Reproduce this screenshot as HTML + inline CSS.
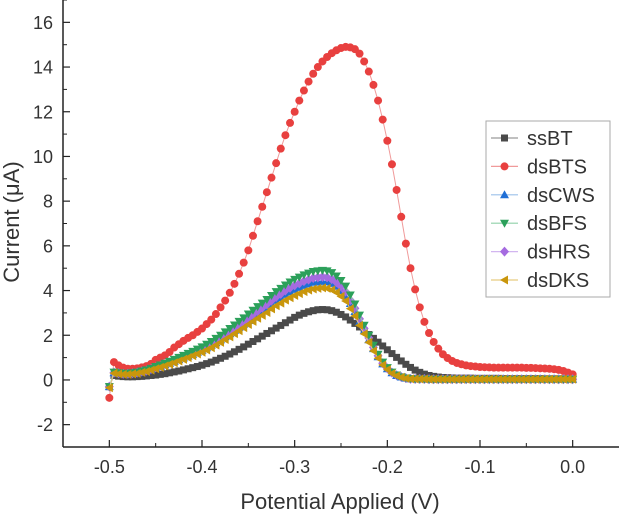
<!DOCTYPE html>
<html><head><meta charset="utf-8"><style>
html,body{margin:0;padding:0;background:#fff;}
svg{display:block;font-family:"Liberation Sans",Arial,sans-serif;}
</style></head><body>
<svg id="chart" width="619" height="518" viewBox="0 0 619 518" xmlns="http://www.w3.org/2000/svg"></svg>
<script>
const xTicks = [-0.5, -0.4, -0.3, -0.2, -0.1, 0.0];
const xTickLabels = ["-0.5", "-0.4", "-0.3", "-0.2", "-0.1", "0.0"];
const yTicks = [-2, 0, 2, 4, 6, 8, 10, 12, 14, 16];
const yTickLabels = ["-2", "0", "2", "4", "6", "8", "10", "12", "14", "16"];
const seriesNames = ["ssBT", "dsBTS", "dsCWS", "dsBFS", "dsHRS", "dsDKS"];
const xStart = -0.5;
const xStep = 0.005;
const ssBT = [-0.30,0.20,0.17,0.15,0.14,0.14,0.15,0.16,0.18,0.20,0.22,0.25,0.28,0.32,0.36,0.40,0.45,0.50,0.55,0.60,0.66,0.73,0.80,0.88,0.97,1.06,1.16,1.26,1.37,1.48,1.60,1.72,1.84,1.96,2.08,2.20,2.32,2.44,2.56,2.68,2.80,2.90,2.98,3.05,3.10,3.14,3.15,3.14,3.10,3.03,2.93,2.82,2.68,2.53,2.37,2.20,2.03,1.86,1.69,1.52,1.35,1.18,1.01,0.85,0.70,0.56,0.44,0.34,0.26,0.20,0.16,0.13,0.11,0.10,0.09,0.08,0.08,0.08,0.08,0.07,0.07,0.07,0.07,0.07,0.07,0.06,0.06,0.06,0.06,0.06,0.06,0.06,0.06,0.06,0.05,0.05,0.05,0.05,0.05,0.05,0.05];
const dsBTS = [-0.80,0.80,0.65,0.55,0.50,0.50,0.52,0.56,0.62,0.72,0.90,1.00,1.10,1.25,1.45,1.60,1.75,1.88,2.00,2.15,2.30,2.50,2.70,2.95,3.25,3.55,3.90,4.30,4.75,5.25,5.80,6.45,7.10,7.75,8.40,9.05,9.70,10.35,10.95,11.50,12.00,12.50,12.95,13.35,13.70,14.00,14.25,14.45,14.62,14.75,14.85,14.90,14.88,14.80,14.60,14.25,13.80,13.20,12.50,11.65,10.70,9.65,8.50,7.30,6.10,5.00,4.05,3.25,2.60,2.10,1.70,1.40,1.15,0.98,0.85,0.76,0.70,0.65,0.62,0.60,0.58,0.57,0.56,0.55,0.55,0.55,0.55,0.55,0.55,0.55,0.54,0.54,0.53,0.52,0.51,0.50,0.48,0.45,0.40,0.33,0.25];
const dsCWS = [-0.30,0.32,0.29,0.27,0.27,0.29,0.32,0.36,0.41,0.47,0.54,0.60,0.68,0.75,0.83,0.91,0.99,1.07,1.15,1.24,1.33,1.44,1.55,1.67,1.80,1.94,2.07,2.21,2.36,2.50,2.66,2.81,2.95,3.10,3.24,3.40,3.56,3.69,3.83,3.94,4.05,4.14,4.23,4.30,4.37,4.39,4.41,4.39,4.32,4.19,4.00,3.78,3.42,3.06,2.61,2.20,1.80,1.40,1.04,0.72,0.50,0.32,0.20,0.13,0.08,0.05,0.04,0.04,0.04,0.03,0.03,0.03,0.03,0.03,0.03,0.03,0.03,0.03,0.03,0.03,0.03,0.03,0.03,0.03,0.03,0.03,0.03,0.03,0.03,0.03,0.03,0.03,0.03,0.03,0.03,0.03,0.03,0.03,0.03,0.03,0.03];
const dsBFS = [-0.30,0.35,0.32,0.30,0.30,0.32,0.35,0.40,0.45,0.52,0.60,0.67,0.75,0.83,0.92,1.01,1.10,1.19,1.28,1.38,1.48,1.60,1.72,1.86,2.00,2.15,2.30,2.46,2.62,2.78,2.95,3.12,3.28,3.44,3.60,3.78,3.95,4.10,4.25,4.38,4.50,4.60,4.70,4.78,4.85,4.88,4.90,4.88,4.80,4.65,4.45,4.20,3.80,3.40,2.90,2.45,2.00,1.55,1.15,0.80,0.55,0.35,0.22,0.14,0.09,0.06,0.04,0.04,0.04,0.03,0.03,0.03,0.03,0.03,0.03,0.03,0.03,0.03,0.03,0.03,0.03,0.03,0.03,0.03,0.03,0.03,0.03,0.03,0.03,0.03,0.03,0.03,0.03,0.03,0.03,0.03,0.03,0.03,0.03,0.03,0.03];
const dsHRS = [-0.30,0.33,0.30,0.28,0.28,0.30,0.33,0.38,0.42,0.49,0.56,0.63,0.70,0.78,0.86,0.95,1.03,1.12,1.20,1.30,1.39,1.50,1.62,1.75,1.88,2.02,2.16,2.31,2.46,2.61,2.77,2.93,3.08,3.23,3.38,3.55,3.71,3.85,4.00,4.12,4.23,4.32,4.42,4.49,4.56,4.59,4.61,4.59,4.51,4.37,4.18,3.95,3.57,3.20,2.73,2.30,1.88,1.46,1.08,0.75,0.52,0.33,0.21,0.13,0.08,0.05,0.04,0.04,0.04,0.03,0.03,0.03,0.03,0.03,0.03,0.03,0.03,0.03,0.03,0.03,0.03,0.03,0.03,0.03,0.03,0.03,0.03,0.03,0.03,0.03,0.03,0.03,0.03,0.03,0.03,0.03,0.03,0.03,0.03,0.03,0.03];
const dsDKS = [-0.35,0.30,0.27,0.25,0.25,0.27,0.29,0.34,0.38,0.44,0.50,0.56,0.63,0.70,0.77,0.85,0.92,1.00,1.08,1.16,1.24,1.34,1.44,1.56,1.68,1.81,1.93,2.07,2.20,2.34,2.48,2.62,2.76,2.89,3.02,3.18,3.32,3.44,3.57,3.68,3.78,3.86,3.95,4.02,4.07,4.10,4.12,4.10,4.03,3.91,3.74,3.53,3.19,2.86,2.44,2.06,1.68,1.30,0.97,0.67,0.46,0.29,0.18,0.12,0.07,0.05,0.04,0.04,0.04,0.03,0.03,0.03,0.03,0.03,0.03,0.03,0.03,0.03,0.03,0.03,0.03,0.03,0.03,0.03,0.03,0.03,0.03,0.03,0.03,0.03,0.03,0.03,0.03,0.03,0.03,0.03,0.03,0.03,0.03,0.03,0.03];

const NS = "http://www.w3.org/2000/svg";
const svg = document.getElementById("chart");
const L = 63, R = 619, T = 0, B = 447;
const xMin = -0.55, xMax = 0.05, yMin = -3, yMax = 17;
function sx(v){ return L + (v - xMin) / (xMax - xMin) * (R - L); }
function sy(v){ return B - (v - yMin) / (yMax - yMin) * (B - T); }
function mk(tag, attrs, parent){
  const e = document.createElementNS(NS, tag);
  for (const k in attrs) e.setAttribute(k, attrs[k]);
  (parent || svg).appendChild(e);
  return e;
}

const gSeries = mk("g", {});



const styles = [
  {c:"#4a4a4a", lc:"#9a9a9a", m:"square"},
  {c:"#e8403f", lc:"#f09a9a", m:"circle"},
  {c:"#1f6fd6", lc:"#9cc0ea", m:"up"},
  {c:"#2ca05a", lc:"#8fd0a8", m:"down"},
  {c:"#a56be0", lc:"#d2b6f0", m:"diamond"},
  {c:"#c9960c", lc:"#e6cc80", m:"left"}
];
function marker(type, x, y, color, parent){
  let e;
  if (type === "square") e = mk("rect", {x:x-3.5, y:y-3.5, width:7, height:7, fill:color}, parent);
  else if (type === "circle") e = mk("circle", {cx:x, cy:y, r:4, fill:color}, parent);
  else if (type === "up") e = mk("polygon", {points:`${x},${y-4.5} ${x+4.5},${y+3.5} ${x-4.5},${y+3.5}`, fill:color}, parent);
  else if (type === "down") e = mk("polygon", {points:`${x},${y+4.5} ${x+4.5},${y-3.5} ${x-4.5},${y-3.5}`, fill:color}, parent);
  else if (type === "diamond") e = mk("polygon", {points:`${x},${y-5} ${x+4.5},${y} ${x},${y+5} ${x-4.5},${y}`, fill:color}, parent);
  else e = mk("polygon", {points:`${x-4.5},${y} ${x+3.5},${y-4.5} ${x+3.5},${y+4.5}`, fill:color}, parent);
  return e;
}
const allSeries = [ssBT, dsBTS, dsCWS, dsBFS, dsHRS, dsDKS];
const drawOrder = [0, 1, 2, 4, 3, 5];
drawOrder.forEach(function(si){
  const vals = allSeries[si];
  const st = styles[si];
  const g = mk("g", {}, gSeries);
  
  
  const pts = vals.map(function(v, i){ return sx(xStart + xStep * i).toFixed(2) + "," + sy(v).toFixed(2); }).join(" ");
  const line = mk("polyline", {points:pts, fill:"none", stroke:st.lc, "stroke-width":1}, g);
  
  
  vals.forEach(function(v, i){
    const m = marker(st.m, sx(xStart + xStep * i), sy(v), st.c, g);
    
    
  });
});

const ax = mk("g", {});


const yAxis = mk("line", {x1:L, y1:0, x2:L, y2:B, stroke:"#222", "stroke-width":1.5}, ax);


const xAxis = mk("line", {x1:L, y1:B, x2:R, y2:B, stroke:"#222", "stroke-width":1.5}, ax);



xTicks.forEach(function(v, i){
  const x = sx(v);
  mk("line", {x1:x, y1:B, x2:x, y2:B-7, stroke:"#222", "stroke-width":1.2}, ax);
  const mx = sx(v + 0.05);
  if (v + 0.05 < xMax) mk("line", {x1:mx, y1:B, x2:mx, y2:B-4, stroke:"#222", "stroke-width":1}, ax);
  const t = mk("text", {x:x, y:473, "text-anchor":"middle", "font-size":18, fill:"#333"}, ax);
  t.textContent = xTickLabels[i];
  
  
});
yTicks.forEach(function(v, i){
  const y = sy(v);
  mk("line", {x1:L, y1:y, x2:L+7, y2:y, stroke:"#222", "stroke-width":1.2}, ax);
  const my = sy(v + 1);
  mk("line", {x1:L, y1:my, x2:L+4, y2:my, stroke:"#222", "stroke-width":1}, ax);
  const t = mk("text", {x:53, y:y+6.5, "text-anchor":"end", "font-size":18, fill:"#333"}, ax);
  t.textContent = yTickLabels[i];
  
  
});
mk("line", {x1:L, y1:sy(-3), x2:L+4, y2:sy(-3), stroke:"#222", "stroke-width":1}, ax);

const xt = mk("text", {x:340, y:509, "text-anchor":"middle", "font-size":22, fill:"#333"});
xt.textContent = "Potential Applied (V)";


const yt = mk("text", {x:0, y:0, "text-anchor":"middle", "font-size":22, fill:"#333", transform:"translate(19,222) rotate(-90)"});
yt.textContent = "Current (\u03BCA)";



const lg = mk("g", {});


mk("rect", {x:486, y:121, width:124, height:176, fill:"#fff", stroke:"#aaa", "stroke-width":1}, lg);
seriesNames.forEach(function(n, i){
  const y = 138 + i * 28.4;
  const st = styles[i];
  const e = mk("g", {}, lg);
  
  
  mk("line", {x1:491, y1:y, x2:518, y2:y, stroke:st.lc, "stroke-width":1.2}, e);
  marker(st.m, 504.5, y, st.c, e);
  const t = mk("text", {x:527, y:y+7, "font-size":20, fill:"#333"}, e);
  t.textContent = n;
});
</script>
</body></html>
